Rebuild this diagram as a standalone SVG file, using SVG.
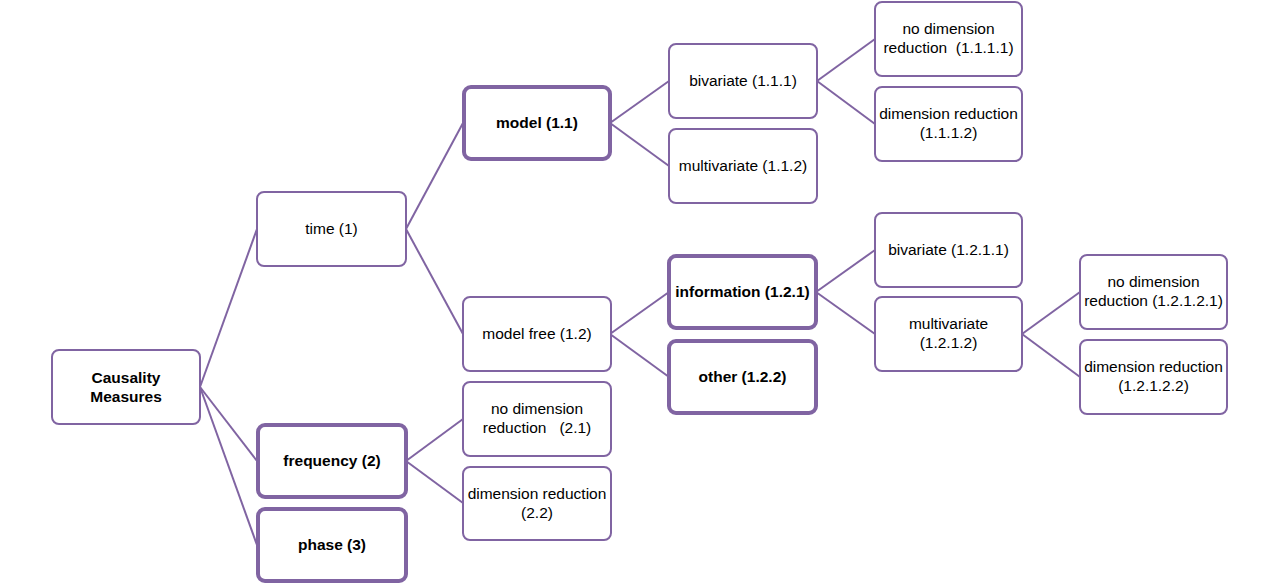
<svg xmlns="http://www.w3.org/2000/svg" width="1280" height="586" viewBox="0 0 1280 586">
<style>
  .box { fill: #ffffff; stroke: #8064a2; stroke-width: 2; }
  .bold-box { fill: #ffffff; stroke: #8064a2; stroke-width: 4; }
  .lbl { font-family: "Liberation Sans", Arial, sans-serif; font-size: 15.5px; fill: #000000; text-anchor: middle; }
  .b { font-weight: bold; }
  .conn line { stroke: #8064a2; stroke-width: 2; }
</style>
<rect width="1280" height="586" fill="#ffffff"/>
<g id="connectors" class="conn">
  <line x1="200" y1="387" x2="257" y2="229"/>
  <line x1="200" y1="387" x2="257" y2="461"/>
  <line x1="200" y1="387" x2="257" y2="545"/>
  <line x1="406" y1="229" x2="463" y2="123"/>
  <line x1="406" y1="229" x2="463" y2="334"/>
  <line x1="610" y1="123" x2="669" y2="81"/>
  <line x1="610" y1="123" x2="669" y2="166"/>
  <line x1="817" y1="81" x2="875" y2="39"/>
  <line x1="817" y1="81" x2="875" y2="124"/>
  <line x1="610" y1="334" x2="669" y2="292"/>
  <line x1="610" y1="334" x2="669" y2="377"/>
  <line x1="816" y1="292" x2="875" y2="250"/>
  <line x1="816" y1="292" x2="875" y2="334"/>
  <line x1="1022" y1="334" x2="1080" y2="292"/>
  <line x1="1022" y1="334" x2="1080" y2="377"/>
  <line x1="406" y1="461" x2="463" y2="419"/>
  <line x1="406" y1="461" x2="463" y2="503"/>
</g>
<g id="n-causality">
  <rect class="box" x="52" y="350" width="148" height="74" rx="7"/>
  <text class="lbl b" x="126" y="383">Causality</text>
  <text class="lbl b" x="126" y="402">Measures</text>
</g>
<g id="n-time">
  <rect class="box" x="257" y="192" width="149" height="74" rx="7"/>
  <text class="lbl" x="331.5" y="234">time (1)</text>
</g>
<g id="n-frequency">
  <rect class="bold-box" x="258" y="425" width="148" height="72" rx="7"/>
  <text class="lbl b" x="332" y="466">frequency (2)</text>
</g>
<g id="n-phase">
  <rect class="bold-box" x="258" y="509" width="148" height="72" rx="7"/>
  <text class="lbl b" x="332" y="550">phase (3)</text>
</g>
<g id="n-model">
  <rect class="bold-box" x="464" y="87" width="146" height="72" rx="7"/>
  <text class="lbl b" x="537" y="128">model (1.1)</text>
</g>
<g id="n-modelfree">
  <rect class="box" x="463" y="297" width="148" height="74" rx="7"/>
  <text class="lbl" x="537" y="339">model free (1.2)</text>
</g>
<g id="n-nodim-2-1">
  <rect class="box" x="463" y="382" width="148" height="74" rx="7"/>
  <text class="lbl" x="537" y="414">no dimension</text>
  <text class="lbl" x="537" y="433" xml:space="preserve">reduction   (2.1)</text>
</g>
<g id="n-dim-2-2">
  <rect class="box" x="463" y="467" width="148" height="73" rx="7"/>
  <text class="lbl" x="537" y="499">dimension reduction</text>
  <text class="lbl" x="537" y="518">(2.2)</text>
</g>
<g id="n-bivariate-1-1-1">
  <rect class="box" x="669" y="44" width="148" height="74" rx="7"/>
  <text class="lbl" x="743" y="86">bivariate (1.1.1)</text>
</g>
<g id="n-multivariate-1-1-2">
  <rect class="box" x="669" y="129" width="148" height="74" rx="7"/>
  <text class="lbl" x="743" y="171">multivariate (1.1.2)</text>
</g>
<g id="n-information">
  <rect class="bold-box" x="669" y="256" width="147" height="72" rx="7"/>
  <text class="lbl b" x="742.5" y="297">information (1.2.1)</text>
</g>
<g id="n-other">
  <rect class="bold-box" x="669" y="341" width="147" height="72" rx="7"/>
  <text class="lbl b" x="742.5" y="382">other (1.2.2)</text>
</g>
<g id="n-nodim-1-1-1-1">
  <rect class="box" x="875" y="2" width="147" height="74" rx="7"/>
  <text class="lbl" x="948.5" y="34">no dimension</text>
  <text class="lbl" x="948.5" y="53" xml:space="preserve">reduction  (1.1.1.1)</text>
</g>
<g id="n-dim-1-1-1-2">
  <rect class="box" x="875" y="87" width="147" height="74" rx="7"/>
  <text class="lbl" x="948.5" y="119">dimension reduction</text>
  <text class="lbl" x="948.5" y="138">(1.1.1.2)</text>
</g>
<g id="n-bivariate-1-2-1-1">
  <rect class="box" x="875" y="213" width="147" height="74" rx="7"/>
  <text class="lbl" x="948.5" y="255">bivariate (1.2.1.1)</text>
</g>
<g id="n-multivariate-1-2-1-2">
  <rect class="box" x="875" y="297" width="147" height="74" rx="7"/>
  <text class="lbl" x="948.5" y="329">multivariate</text>
  <text class="lbl" x="948.5" y="348">(1.2.1.2)</text>
</g>
<g id="n-nodim-1-2-1-2-1">
  <rect class="box" x="1080" y="255" width="147" height="74" rx="7"/>
  <text class="lbl" x="1153.5" y="287">no dimension</text>
  <text class="lbl" x="1153.5" y="306">reduction (1.2.1.2.1)</text>
</g>
<g id="n-dim-1-2-1-2-2">
  <rect class="box" x="1080" y="340" width="147" height="74" rx="7"/>
  <text class="lbl" x="1153.5" y="372">dimension reduction</text>
  <text class="lbl" x="1153.5" y="391">(1.2.1.2.2)</text>
</g>
</svg>
